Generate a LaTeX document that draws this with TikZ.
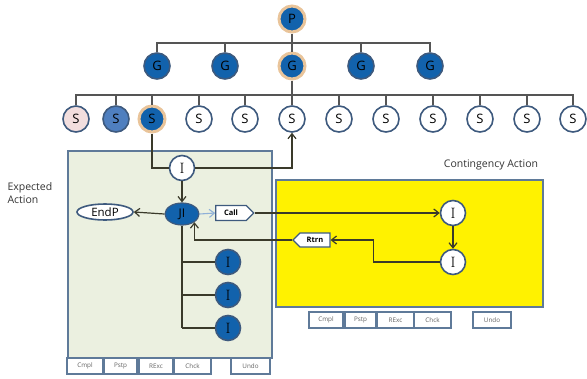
\documentclass[tikz,border=0pt]{standalone}
\usepackage{fontspec}
\setsansfont{Open Sans}
\usetikzlibrary{shapes.geometric,shapes.symbols,arrows.meta}
\definecolor{dblue}{HTML}{1262AC}
\definecolor{mblue}{HTML}{4F7FBF}
\definecolor{ringc}{HTML}{E9C49A}
\definecolor{edgeb}{HTML}{3E5A7E}
\definecolor{boxb}{HTML}{5F7A99}
\definecolor{greenf}{HTML}{EBF0E0}
\definecolor{pinkf}{HTML}{F2DEDE}
\definecolor{treel}{HTML}{555555}
\definecolor{callb}{HTML}{8FB0D8}
\definecolor{flowl}{HTML}{3A3A2A}
\definecolor{btntext}{HTML}{606060}
\begin{document}
\begin{tikzpicture}[x=1pt,y=-1pt,
  circ/.style={circle, minimum size=26pt, inner sep=0pt, line width=1.6pt, draw=edgeb,
    font=\sffamily\fontsize{13}{13}\selectfont},
  nfill/.style={circ, fill=dblue},
  nring/.style={circ, fill=dblue, draw=ringc, line width=3pt},
  nmid/.style={circ, fill=mblue},
  npink/.style={circ, fill=pinkf},
  nwhite/.style={circ, fill=white},
  icirc/.style={circle, minimum size=25pt, inner sep=0pt, line width=1.6pt, draw=edgeb,
    font=\rmfamily\fontsize{15}{15}\selectfont},
  treeline/.style={draw=treel, line width=1.1pt},
  flow/.style={draw=flowl, line width=1.2pt},
  arr/.style={-{Straight Barb[length=5pt,width=8pt]}},
  btn/.style={draw=boxb, line width=1.3pt, fill=white, inner sep=0pt, minimum height=16pt,
    text=btntext, font=\sffamily\fontsize{6.3}{7}\selectfont},
  panel/.style={draw=boxb, line width=1.5pt, anchor=north west, inner sep=0pt},
  lbl/.style={font=\sffamily\fontsize{10.5}{12.5}\selectfont, text=black!80}
]
\useasboundingbox (0,0) rectangle (587,378);

% panels
\node[panel, fill=greenf, minimum width=204pt, minimum height=207pt] (EA) at (67,150) {};
\node[panel, fill=yellow, minimum width=267pt, minimum height=127pt] (CA) at (275,179) {};

% tree nodes
\node[nring] (P) at (292,19) {P};
\node[nfill] (G1) at (157,66) {G};
\node[nfill] (G2) at (225,66) {G};
\node[nring] (G3) at (292,66) {G};
\node[nfill] (G4) at (361,66) {G};
\node[nfill] (G5) at (430,66) {G};
\coordinate (bus1) at (0,43);
\coordinate (bus2) at (0,95);
\draw[treeline] (P.south) -- (P |- bus1);
\draw[treeline] (G1.north) -- (G1 |- bus1) -- (G5 |- bus1) -- (G5.north);
\foreach \g in {G2,G3,G4} \draw[treeline] (\g.north) -- (\g |- bus1);

\node[npink] (S1) at (76,119) {S};
\node[nmid] (S2) at (116,119) {S};
\node[nring] (S3) at (152,119) {S};
\node[nwhite] (S4) at (199,119) {S};
\node[nwhite] (S5) at (245,119) {S};
\node[nwhite] (S6) at (292,119) {S};
\node[nwhite] (S7) at (339,119) {S};
\node[nwhite] (S8) at (386,119) {S};
\node[nwhite] (S9) at (433,119) {S};
\node[nwhite] (S10) at (480,119) {S};
\node[nwhite] (S11) at (527,119) {S};
\node[nwhite] (S12) at (573,119) {S};
\draw[treeline] (G3.south) -- (G3 |- bus2);
\draw[treeline] (S1.north) -- (S1 |- bus2) -- (S12 |- bus2) -- (S12.north);
\foreach \s in {S2,S3,S4,S5,S6,S7,S8,S9,S10,S11} \draw[treeline] (\s.north) -- (\s |- bus2);

% expected action content
\node[icirc, fill=white] (I0) at (182,168) {I};
\node[ellipse, fill=dblue, draw=edgeb, line width=1.2pt, minimum width=34pt, minimum height=22pt,
  inner sep=0pt, font=\sffamily\fontsize{12}{12}\selectfont] (JI) at (182,214) {JI};
\node[ellipse, fill=white, draw=edgeb, line width=1.6pt, minimum width=56pt, minimum height=16pt,
  inner sep=0pt, font=\sffamily\fontsize{11.5}{11.5}\selectfont] (EndP) at (105,212) {EndP};
\node[signal, signal to=east, draw=edgeb, fill=white, line width=1.2pt, minimum width=38pt,
  minimum height=15pt, inner sep=1.5pt, font=\sffamily\bfseries\fontsize{7.5}{7.5}\selectfont] (Call) at (231,213) {Call};
\node[icirc, fill=dblue] (I1) at (228,262) {I};
\node[icirc, fill=dblue] (I2) at (228,295) {I};
\node[icirc, fill=dblue] (I3) at (228,328) {I};

% contingency content
\node[icirc, fill=white] (C1) at (453,213) {I};
\node[icirc, fill=white] (C2) at (453,262) {I};
\node[signal, signal to=west, draw=edgeb, fill=white, line width=1.2pt, minimum width=37pt,
  minimum height=14pt, inner sep=1.5pt, font=\sffamily\bfseries\fontsize{7.5}{7.5}\selectfont] (Rtrn) at (315,240) {Rtrn};

% connectors
\draw[flow] (S3.south) |- (I0.west);
\draw[flow, arr] (I0.east) -| (S6.south);
\draw[flow, arr] (I0.south) -- (JI.north);
\draw[flow, arr] (JI.west) -- (EndP.east);
\draw[draw=callb, line width=1.1pt, arr] (JI.east) -- (Call.west);
\draw[flow, arr] (Call.east) -- (C1.west);
\draw[flow, arr] (C1.south) -- (C2.north);
\draw[flow, arr] (C2.west) -- ++(-66,0) |- (Rtrn.east);
\draw[flow, arr] (Rtrn.west) -| (JI.south east);
\draw[flow] (JI.south) -- (JI.south |- I3);
\draw[flow] (JI.south |- I1) -- (I1.west);
\draw[flow] (JI.south |- I2) -- (I2.west);
\draw[flow] (JI.south |- I3) -- (I3.west);

% labels
\node[lbl, anchor=west, align=left] (ealbl) at (4,193) {Expected\\Action};
\node[lbl] (calbl) at (491,165) {Contingency Action};

% buttons, expected action
\node[btn, minimum width=36pt] (b1) at (85,366) {Cmpl};
\node[btn, minimum width=33pt] (b2) at (120.5,366) {Pstp};
\node[btn, minimum width=34pt] (b3) at (156,366) {RExc};
\node[btn, minimum width=37pt] (b4) at (192.5,366) {Chck};
\node[btn, minimum width=39pt] (b5) at (250.5,366) {Undo};
% buttons, contingency action
\node[btn, minimum width=34pt] (c1) at (326,320) {Cmpl};
\node[btn, minimum width=31pt] (c2) at (360.5,320) {Pstp};
\node[btn, minimum width=37pt] (c3) at (395.5,320) {RExc};
\node[btn, minimum width=37pt] (c4) at (432.5,320) {Chck};
\node[btn, minimum width=38pt] (c5) at (492,320) {Undo};
\end{tikzpicture}
\end{document}
